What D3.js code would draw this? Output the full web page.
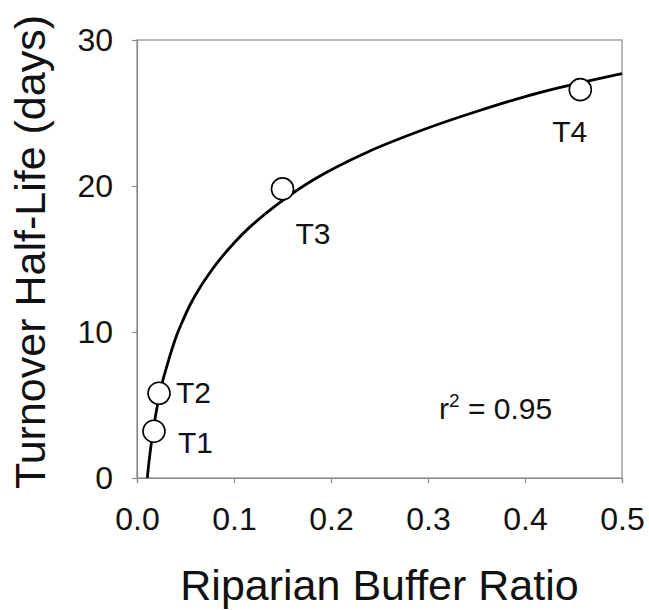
<!DOCTYPE html>
<html>
<head>
<meta charset="utf-8">
<script src="https://cdn.jsdelivr.net/npm/d3@7"></script>
<style>
  body { margin: 0; background: #fff; }
  svg text { font-family: "Liberation Sans", Arial, sans-serif; fill: #111; }
</style>
</head>
<body>
<div id="chart"></div>
<script>
// sites
const siteNames = ["T1", "T2", "T3", "T4"];
const bufferRatio = [0.0175, 0.0227, 0.150, 0.457];
const halfLife = [3.2, 5.8, 19.8, 26.6];

// fitted curve
const fitX = [0.0106, 0.012, 0.015, 0.0175, 0.02, 0.0227, 0.0271, 0.031, 0.035, 0.041, 0.0477, 0.055, 0.064, 0.073, 0.0822, 0.1, 0.1165, 0.1457, 0.185, 0.2368, 0.295, 0.35, 0.415, 0.5];
const fitY = [0, 0.9, 2.5, 3.6, 4.6, 5.5, 6.8, 7.7, 8.6, 9.8, 10.85, 11.9, 12.95, 13.85, 14.7, 16.1, 17.2, 18.8, 20.55, 22.3, 23.85, 25.1, 26.4, 27.7];

const xTicks = [0, 0.1, 0.2, 0.3, 0.4, 0.5];
const yTicks = [0, 10, 20, 30];
const r2Value = "0.95";

const width = 649, height = 610;
const margin = { top: 40, right: 27, bottom: 132, left: 137 };

// where each label sits relative to its point
const labelOffset = { T1: [24, 22], T2: [17, 10], T3: [13, 55], T4: [-28, 52] };

const svg = d3.select("#chart").append("svg").attr("width", width).attr("height", height);

const x = d3.scaleLinear().domain([0, 0.5]).range([margin.left, width - margin.right]);
const y = d3.scaleLinear().domain([0, 30]).range([height - margin.bottom, margin.top]);

// frame
svg.append("rect")
  .attr("x", x(0)).attr("y", y(30))
  .attr("width", x(0.5) - x(0)).attr("height", y(0) - y(30))
  .attr("fill", "none").attr("stroke", "#8a8a8a").attr("stroke-width", 1.2);

const xAxis = svg.append("g")
  .attr("transform", `translate(0,${y(0)})`)
  .call(d3.axisBottom(x).tickValues(xTicks).tickFormat(d3.format(".1f")).tickSize(5).tickPadding(24));
const yAxis = svg.append("g")
  .attr("transform", `translate(${x(0)},0)`)
  .call(d3.axisLeft(y).tickValues(yTicks).tickSize(5).tickPadding(19));

[xAxis, yAxis].forEach(g => {
  g.select(".domain").attr("stroke", "#8a8a8a").attr("stroke-width", 1.2);
  g.selectAll(".tick line").attr("stroke", "#8a8a8a").attr("stroke-width", 1.2);
  g.selectAll(".tick text").attr("font-size", 32).attr("fill", "#111")
    .attr("font-family", "'Liberation Sans', Arial, sans-serif");
});

// axis titles
svg.append("text")
  .attr("x", (x(0) + x(0.5)) / 2).attr("y", 600)
  .attr("text-anchor", "middle").attr("font-size", 43)
  .text("Riparian Buffer Ratio");
svg.append("text")
  .attr("transform", `translate(45,252) rotate(-90)`)
  .attr("text-anchor", "middle").attr("font-size", 43)
  .text("Turnover Half-Life (days)");

// fit curve
const line = d3.line().x(d => x(d[0])).y(d => y(d[1])).curve(d3.curveCatmullRom.alpha(0.5));
svg.append("path")
  .datum(fitX.map((v, i) => [v, fitY[i]]))
  .attr("d", line)
  .attr("fill", "none").attr("stroke", "#000").attr("stroke-width", 2.8);

// points
const sites = siteNames.map((n, i) => ({ name: n, x: bufferRatio[i], y: halfLife[i] }));
svg.selectAll("circle.site")
  .data(sites).enter().append("circle")
  .attr("class", "site")
  .attr("cx", d => x(d.x)).attr("cy", d => y(d.y)).attr("r", 11)
  .attr("fill", "#fff").attr("stroke", "#000").attr("stroke-width", 1.6);

svg.selectAll("text.site-label")
  .data(sites).enter().append("text")
  .attr("class", "site-label")
  .attr("x", d => x(d.x) + labelOffset[d.name][0])
  .attr("y", d => y(d.y) + labelOffset[d.name][1])
  .attr("font-size", 30)
  .text(d => d.name);

// r squared
const r2 = svg.append("text").attr("x", 439).attr("y", 419).attr("font-size", 30);
r2.append("tspan").text("r");
r2.append("tspan").attr("font-size", 19).attr("dy", -12).text("2");
r2.append("tspan").attr("dy", 12).text(" = " + r2Value);
</script>
</body>
</html>
